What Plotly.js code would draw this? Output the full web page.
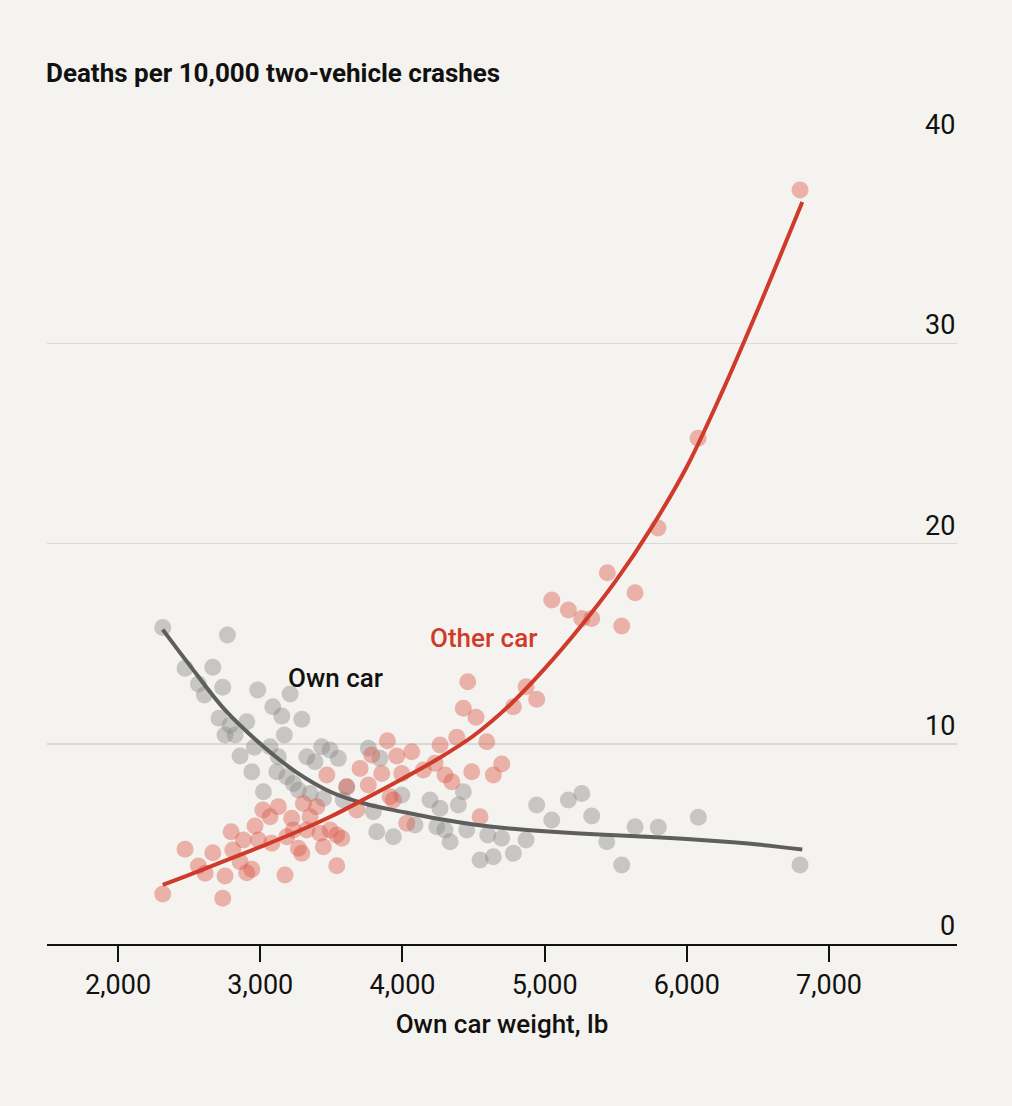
<!DOCTYPE html>
<html>
<head>
<meta charset="utf-8">
<script src="https://cdn.plot.ly/plotly-3.0.1.min.js"></script>
<style>
  html, body { margin: 0; padding: 0; background: #f5f3ef; }
  #chart { width: 1012px; height: 1106px; }
</style>
</head>
<body>
<div id="chart"></div>
<script>
"use strict"

// own car weight (lb) and deaths per 10,000 crashes
var ownW = [2314, 2769, 2471, 2666, 2565, 2607, 2736, 2982, 3210, 3088,
            3151, 3292, 2710, 2905, 2788, 2752, 2823, 3169, 2858, 2958,
            3069, 2940, 3022, 3116, 3127, 3186, 3233, 3327, 3385, 3432,
            3491, 3549, 3268, 3350, 3444, 3608, 3760, 3842, 3995, 4194,
            4264, 4428, 4393, 3795, 3819, 3936, 4088, 4241, 4335, 4452,
            4546, 4639, 4944, 5167, 5261, 5331, 5050, 5636, 5799, 6081,
            5437, 5542, 6796, 4869, 4780, 4698, 4600, 4299, 3584];
var ownD = [15.81, 15.43, 13.77, 13.82, 12.98, 12.43, 12.82, 12.68, 12.48, 11.85,
            11.38, 11.22, 11.27, 11.10, 10.93, 10.44, 10.44, 10.44, 9.39, 9.82,
            9.85, 8.60, 7.60, 8.60, 9.35, 8.35, 8.02, 9.35, 9.10, 9.85,
            9.69, 9.27, 7.69, 7.52, 7.27, 7.85, 9.77, 9.27, 7.44, 7.19,
            6.78, 7.60, 6.94, 6.61, 5.61, 5.36, 5.94, 5.86, 5.11, 5.69,
            4.19, 4.36, 6.94, 7.19, 7.52, 6.39, 6.19, 5.86, 5.83, 6.33,
            5.11, 3.94, 3.94, 5.19, 4.53, 5.28, 5.44, 5.69, 7.19];

var otherW = [2314, 2736, 2471, 2565, 2612, 2666, 2752, 2795, 2807, 2858,
              2881, 2905, 2940, 2963, 2987, 3018, 3069, 3081, 3127, 3174,
              3186, 3221, 3233, 3268, 3292, 3303, 3350, 3327, 3397, 3420,
              3444, 3468, 3491, 3538, 3573, 3538, 3608, 3679, 3702, 3760,
              3784, 3854, 3913, 3894, 3960, 4065, 4264, 4382, 4593, 3995,
              4147, 4229, 4299, 4347, 4487, 4639, 3936, 4030, 4546, 5441,
              5636, 5050, 5167, 5261, 5331, 5542, 4459, 4869, 4944, 4780,
              4428, 4517, 4698, 6796, 6079, 5797];
var otherD = [2.50, 2.28, 4.73, 3.89, 3.53, 4.56, 3.40, 5.61, 4.69, 4.11,
              5.19, 3.56, 3.73, 5.89, 5.19, 6.69, 6.36, 5.03, 6.86, 3.45,
              5.36, 6.28, 5.69, 4.78, 4.53, 7.02, 6.36, 5.69, 6.86, 5.53,
              4.86, 8.44, 5.69, 5.44, 5.28, 3.91, 7.85, 6.69, 8.77, 7.94,
              9.44, 8.52, 7.35, 10.15, 9.39, 9.60, 9.94, 10.32, 10.10, 8.52,
              8.69, 9.02, 8.44, 8.10, 8.60, 8.44, 7.19, 6.03, 6.36, 18.54,
              17.54, 17.18, 16.68, 16.26, 16.26, 15.88, 13.10, 12.85, 12.22, 11.85,
              11.77, 11.32, 8.99, 37.65, 25.26, 20.77];

// fitted curves
var fitW     = [2314, 2500, 2750, 3000, 3250, 3500, 3750, 4000, 4250, 4500,
                4750, 5000, 5250, 5500, 5750, 6000, 6250, 6500, 6812];
var ownFit   = [15.7, 13.95, 11.7, 10.0, 8.6, 7.58, 6.98, 6.6, 6.25, 5.97,
                5.77, 5.63, 5.52, 5.43, 5.34, 5.24, 5.12, 4.97, 4.72];
var otherFit = [2.95, 3.45, 4.15, 4.85, 5.58, 6.38, 7.3, 8.25, 9.25, 10.4,
                11.9, 13.75, 15.83, 18.13, 20.78, 23.83, 27.6, 31.7, 37.05];

var xTicks = [2000, 3000, 4000, 5000, 6000, 7000];
var xTickText = ["2,000", "3,000", "4,000", "5,000", "6,000", "7,000"];
var yTicks = [0, 10, 20, 30, 40];

var FONT = "Roboto, 'Liberation Sans', sans-serif";
var RED = "#d03a2b";

var traces = [
    {
        x: ownW, y: ownD, type: "scatter", mode: "markers", name: "Own car",
        marker: {size: 17, color: "rgba(140,140,138,0.43)", line: {width: 0}},
        hoverinfo: "x+y"
    },
    {
        x: otherW, y: otherD, type: "scatter", mode: "markers", name: "Other car",
        marker: {size: 17, color: "rgba(220,85,72,0.42)", line: {width: 0}},
        hoverinfo: "x+y"
    },
    {
        x: fitW, y: ownFit, type: "scatter", mode: "lines",
        line: {color: "#5e5e5e", width: 4, shape: "spline", smoothing: 1},
        hoverinfo: "skip"
    },
    {
        x: fitW, y: otherFit, type: "scatter", mode: "lines",
        line: {color: RED, width: 4, shape: "spline", smoothing: 1},
        hoverinfo: "skip"
    }
];

var annotations = yTicks.map(function(v) {
    return {
        xref: "paper", yref: "y", x: 1, y: v,
        xanchor: "right", yanchor: "bottom", yshift: 0,
        text: String(v), showarrow: false,
        font: {family: FONT, size: 27, color: "#111"}
    };
});

annotations.push({
    xref: "x", yref: "y", x: 3526, y: 13.3,
    text: "Own car", showarrow: false,
    font: {family: FONT, size: 26, color: "#111", weight: 500}
});
annotations.push({
    xref: "x", yref: "y", x: 4572, y: 15.3,
    text: "Other car", showarrow: false,
    font: {family: FONT, size: 26, color: RED, weight: 500}
});

var layout = {
    width: 1012, height: 1106,
    paper_bgcolor: "#f5f3ef", plot_bgcolor: "#f5f3ef",
    margin: {l: 47, r: 55, t: 143, b: 162},
    showlegend: false,
    title: {
        text: "Deaths per 10,000 two-vehicle crashes",
        xref: "container", x: 46 / 1012, xanchor: "left",
        yref: "container", y: 1 - 73 / 1106, yanchor: "middle",
        font: {family: FONT, size: 26, color: "#111", weight: 700}
    },
    xaxis: {
        range: [1500, 7900],
        tickvals: xTicks, ticktext: xTickText,
        ticks: "outside", ticklen: 16, tickwidth: 2, tickcolor: "#111",
        showline: true, linecolor: "#111", linewidth: 2,
        showgrid: false, zeroline: false,
        tickfont: {family: FONT, size: 27, color: "#111"},
        title: {
            text: "Own car weight, lb", standoff: 14,
            font: {family: FONT, size: 26, color: "#111", weight: 500}
        }
    },
    yaxis: {
        range: [0, 40],
        tickvals: yTicks,
        showticklabels: false, ticks: "",
        showgrid: true, gridcolor: "#dbd9d5", gridwidth: 1.5,
        zeroline: false, showline: false
    },
    annotations: annotations
};

Plotly.newPlot("chart", traces, layout, {displayModeBar: false, staticPlot: true});
</script>
</body>
</html>
